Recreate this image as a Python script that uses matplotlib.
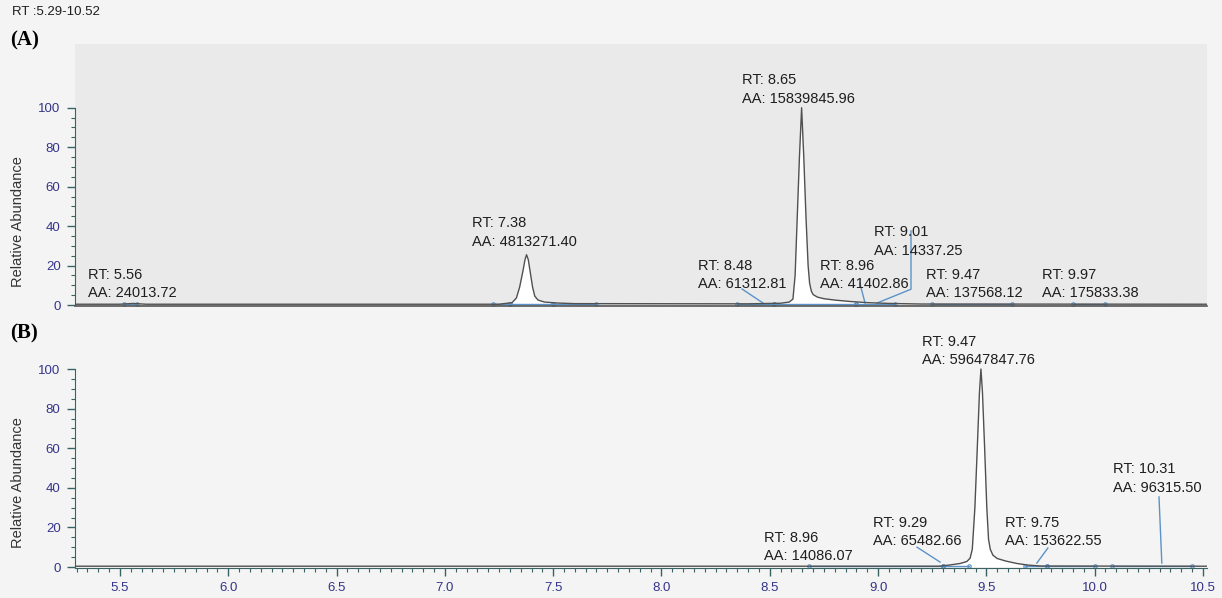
import numpy as np
import matplotlib.pyplot as plt
from matplotlib.ticker import MultipleLocator, FixedLocator

plt.rcParams['font.family'] = ['Liberation Sans', 'DejaVu Sans']

# chromatogram traces (retention time, relative abundance)
rt_a = [5.29, 5.50, 5.56, 5.62, 7.25, 7.31, 7.33, 7.345, 7.36, 7.37, 7.377, 7.385, 7.395,
        7.405, 7.415, 7.43, 7.46, 7.52, 7.60, 8.40, 8.55, 8.59, 8.607, 8.617, 8.627,
        8.637, 8.647, 8.657, 8.667, 8.677, 8.684, 8.692, 8.70, 8.72, 8.75, 8.80, 8.87,
        8.95, 9.05, 9.20, 10.52]
ab_a = [0.4, 0.4, 0.8, 0.4, 0.4, 1.2, 3.5, 9, 17, 23, 25.5, 23, 16,
        9, 4.5, 2.5, 1.5, 1.0, 0.7, 0.6, 0.9, 1.5, 3, 15, 45,
        75, 100, 75, 45, 20, 11, 7, 5.3, 4.0, 3.2, 2.5, 1.8,
        1.2, 0.8, 0.5, 0.4]

rt_b = [5.29, 9.28, 9.33, 9.38, 9.41, 9.425, 9.435, 9.447, 9.458, 9.468, 9.475, 9.482,
        9.492, 9.502, 9.51, 9.518, 9.53, 9.55, 9.59, 9.64, 9.69, 9.75, 10.52]
ab_b = [0.4, 0.4, 1.0, 1.8, 2.8, 4.5, 9, 30, 60, 88, 100, 88,
        60, 30, 14, 9, 6, 4.3, 3, 1.8, 1.0, 0.5, 0.4]

# integration baselines (start, end)
base_a = [(5.52, 5.58), (7.22, 7.30), (7.30, 7.50), (7.50, 7.70), (8.35, 8.52),
          (8.52, 8.90), (8.90, 9.08), (9.25, 9.62), (9.90, 10.05)]
base_b = [(8.68, 9.30), (9.30, 9.42), (9.68, 9.78), (9.78, 10.00), (10.08, 10.45)]

# peak labels: rt, area, label x, label y
peaks_a = [(5.56, '24013.72', 5.352, 2.5),
           (7.38, '4813271.40', 7.125, 28.5),
           (8.65, '15839845.96', 8.372, 101),
           (8.48, '61312.81', 8.169, 7),
           (8.96, '41402.86', 8.732, 7),
           (9.01, '14337.25', 8.981, 24),
           (9.47, '137568.12', 9.221, 2.5),
           (9.97, '175833.38', 9.757, 2.5)]
peaks_b = [(9.47, '59647847.76', 9.203, 101),
           (10.31, '96315.50', 10.084, 36.5),
           (8.96, '14086.07', 8.473, 2),
           (9.29, '65482.66', 8.976, 9.5),
           (9.75, '153622.55', 9.586, 9.5)]

# leader lines from labels to peaks
lead_a = [([8.372, 8.469], [8.1, 1.0]),
          ([8.916, 8.94], [11, 1.0]),
          ([9.152, 9.152, 8.995], [37.6, 8, 1.0])]
lead_b = [([9.18, 9.286], [10, 2.5]),
          ([9.784, 9.733], [9.6, 2]),
          ([10.297, 10.31], [35.4, 2])]

spine_col = '#3a6363'
tick_col = '#34348a'
blue = '#5b93c8'

fig = plt.figure(figsize=(12.22, 5.98), dpi=100)
fig.patch.set_facecolor('#f4f4f4')

ax_a = fig.add_axes([74.5 / 1222, 1 - 306 / 598, 1132.8 / 1222, 262 / 598])
ax_b = fig.add_axes([74.5 / 1222, 1 - 568 / 598, 1132.8 / 1222, 234.6 / 598])


def draw_panel(ax, rt, ab, bases, peaks, leads):
    rt = np.array(rt)
    ab = np.array(ab)
    ax.fill_between(rt, 0.3, ab, where=ab > 0.7, interpolate=True,
                    color='white', lw=0, zorder=1)
    ax.plot(rt, ab, color='#505050', lw=1.0, zorder=3)
    for s, e in bases:
        ax.plot([s, e], [0.4, 0.4], color=blue, lw=1.0, marker='o', ms=2.5,
                mfc='none', mew=0.8, zorder=2)
    for xs, ys in leads:
        ax.plot(xs, ys, color=blue, lw=1.0, zorder=2)
    for rtv, area, lx, ly in peaks:
        ax.text(lx, ly, 'RT: %.2f\nAA: %s' % (rtv, area), ha='left', va='bottom',
                fontsize=10.5, linespacing=1.4, color='#1e1e1e', zorder=4)
    ax.set_xlim(5.29, 10.52)
    ax.yaxis.set_major_locator(FixedLocator([0, 20, 40, 60, 80, 100]))
    ax.yaxis.set_minor_locator(FixedLocator(np.arange(0, 101, 5)))
    ax.spines['top'].set_visible(False)
    ax.spines['right'].set_visible(False)
    ax.spines['left'].set_bounds(0, 100)
    ax.spines['left'].set_color(spine_col)
    ax.tick_params(axis='y', which='major', length=6, width=1, color=spine_col,
                   labelcolor=tick_col, labelsize=9.5, pad=4)
    ax.tick_params(axis='y', which='minor', length=3, width=0.8, color=spine_col)


# panel A
ax_a.set_facecolor('#eaeaea')
ax_a.set_ylim(-0.5, 132.3)
draw_panel(ax_a, rt_a, ab_a, base_a, peaks_a, lead_a)
ax_a.spines['bottom'].set_color('#555555')
ax_a.spines['bottom'].set_linewidth(1.2)
ax_a.tick_params(axis='x', which='both', bottom=False, labelbottom=False)

# panel B
ax_b.set_facecolor('none')
ax_b.set_ylim(-0.5, 118)
draw_panel(ax_b, rt_b, ab_b, base_b, peaks_b, lead_b)
ax_b.spines['bottom'].set_color(spine_col)
ax_b.set_xticks([5.5, 6.0, 6.5, 7.0, 7.5, 8.0, 8.5, 9.0, 9.5, 10.0, 10.5])
ax_b.xaxis.set_minor_locator(MultipleLocator(0.05))
ax_b.tick_params(axis='x', which='major', length=6, width=1, color=spine_col,
                 labelcolor=tick_col, labelsize=9.5, pad=4)
ax_b.tick_params(axis='x', which='minor', length=3, width=0.8, color=spine_col)

# titles and axis labels
fig.text(12 / 1222, 1 - 12 / 598, 'RT :5.29-10.52', fontsize=9.5, color='#1e1e1e',
         va='center', ha='left')
fig.text(10 / 1222, 1 - 40 / 598, '(A)', fontsize=15, fontweight='bold',
         family='Liberation Serif', va='center', ha='left')
fig.text(10 / 1222, 1 - 333 / 598, '(B)', fontsize=15, fontweight='bold',
         family='Liberation Serif', va='center', ha='left')
fig.text(18 / 1222, 1 - 222 / 598, 'Relative Abundance', fontsize=10.5, rotation=90,
         color='#333333', va='center', ha='center')
fig.text(18 / 1222, 1 - 483 / 598, 'Relative Abundance', fontsize=10.5, rotation=90,
         color='#333333', va='center', ha='center')

fig.savefig('out.png', dpi=100, facecolor=fig.get_facecolor())
